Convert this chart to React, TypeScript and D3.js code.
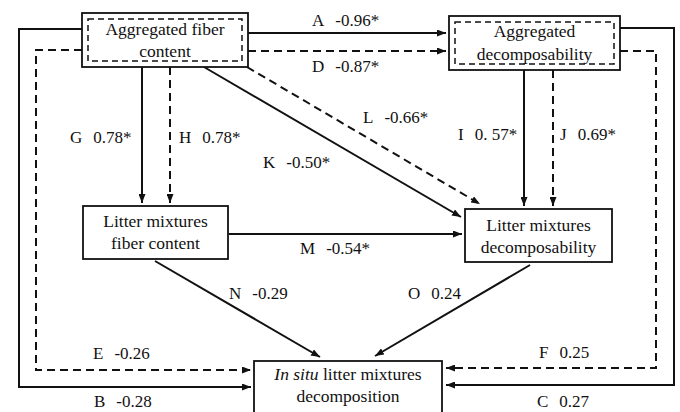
import * as d3 from "d3";

// path coefficients (letter, value)
const pathLetters = ["A", "B", "C", "D", "E", "F", "G", "H", "I", "J", "K", "L", "M", "N", "O"];
const pathValues = ["-0.96*", "-0.28", "0.27", "-0.87*", "-0.26", "0.25", "0.78*", "0.78*", "0. 57*", "0.69*", "-0.50*", "-0.66*", "-0.54*", "-0.29", "0.24"];
const pathDashed = [false, false, false, true, true, true, false, true, false, true, false, true, false, false, false];

// node labels
const nodeIds = ["aggFiber", "aggDecomp", "mixFiber", "mixDecomp", "insitu"];
const nodeLines = [
  ["Aggregated fiber", "content"],
  ["Aggregated", "decomposability"],
  ["Litter mixtures", "fiber content"],
  ["Litter mixtures", "decomposability"],
  ["|In situ| litter mixtures", "decomposition"],
];

// layout (positions only)
const boxLayout: Record<string, { x0: number; x1: number; y0: number; y1: number; base: number[]; double?: boolean }> = {
  aggFiber: { x0: 82, x1: 248, y0: 13, y1: 67, base: [35, 57], double: true },
  aggDecomp: { x0: 449, x1: 620, y0: 16, y1: 70, base: [37, 60], double: true },
  mixFiber: { x0: 83, x1: 228, y0: 206, y1: 259, base: [227, 249] },
  mixDecomp: { x0: 465, x1: 612, y0: 209, y1: 262, base: [231, 253] },
  insitu: { x0: 254, x1: 442, y0: 361, y1: 420, base: [380, 402] },
};

const routeLayout: Record<string, [number, number][]> = {
  A: [[248, 33], [446, 33]],
  D: [[248, 51], [446, 51]],
  B: [[82, 29], [19, 29], [19, 387], [251, 387]],
  E: [[82, 50], [36, 50], [36, 370], [251, 370]],
  C: [[620, 28], [674, 28], [674, 385], [446, 385]],
  F: [[620, 51], [656, 51], [656, 368], [446, 368]],
  G: [[142, 67], [142, 203]],
  H: [[170, 67], [170, 203]],
  K: [[204, 67], [461, 217]],
  L: [[247, 67], [480, 204]],
  I: [[524, 70], [524, 206]],
  J: [[553, 70], [553, 206]],
  M: [[229, 234], [462, 234]],
  N: [[155, 261], [320, 357]],
  O: [[530, 265], [375, 356]],
};

const labelLayout: Record<string, [number, number]> = {
  A: [312, 26], D: [312, 72], B: [94, 407], E: [93, 359], C: [537, 407], F: [539, 358],
  G: [70, 143], H: [179, 143], K: [263, 168], L: [363, 123], I: [458, 140], J: [560, 140],
  M: [300, 254], N: [229, 299], O: [408, 299],
};

const W = 680;
const H = 412;
const font = "'Liberation Serif', 'Times New Roman', serif";
const ink = "#111";

const line = d3.line<[number, number]>().x((d) => d[0]).y((d) => d[1]);

function renderLine(text: string, key: number, x: number, y: number) {
  const parts = text.split("|").filter((p) => p.length > 0);
  const italicFirst = text.startsWith("|");
  return (
    <text key={key} x={x} y={y} textAnchor="middle" fontFamily={font} fontSize={17.5} fill={ink}>
      {parts.map((p, i) => (
        <tspan key={i} fontStyle={italicFirst && i === 0 ? "italic" : "normal"}>{p}</tspan>
      ))}
    </text>
  );
}

export default function App() {
  return (
    <svg width={W} height={H} style={{ position: "absolute", left: 0, top: 0, background: "#fff" }}>
      <defs>
        <marker id="arr" viewBox="0 0 9 7" refX={9} refY={3.5} markerWidth={9} markerHeight={7} markerUnits="userSpaceOnUse" orient="auto">
          <path d="M0,0 L9,3.5 L0,7 z" fill={ink} />
        </marker>
      </defs>
      {pathLetters.map((k, i) => (
        <path
          key={k}
          d={line(routeLayout[k]) ?? ""}
          fill="none"
          stroke={ink}
          strokeWidth={2}
          strokeDasharray={pathDashed[i] ? "8,5" : undefined}
          markerEnd="url(#arr)"
        />
      ))}
      {nodeIds.map((id, i) => {
        const b = boxLayout[id];
        const cx = (b.x0 + b.x1) / 2;
        return (
          <g key={id}>
            <rect x={b.x0} y={b.y0} width={b.x1 - b.x0} height={b.y1 - b.y0} fill="#fff" stroke={ink} strokeWidth={1.8} />
            {b.double && (
              <rect x={b.x0 + 6} y={b.y0 + 6} width={b.x1 - b.x0 - 12} height={b.y1 - b.y0 - 12} fill="none" stroke={ink} strokeWidth={1.5} strokeDasharray="6,4" />
            )}
            {nodeLines[i].map((t, j) => renderLine(t, j, cx, b.base[j]))}
          </g>
        );
      })}
      {pathLetters.map((k, i) => (
        <text key={"l" + k} x={labelLayout[k][0]} y={labelLayout[k][1]} fontFamily={font} fontSize={17} fill={ink}>
          <tspan>{k}</tspan>
          <tspan dx={11}>{pathValues[i]}</tspan>
        </text>
      ))}
    </svg>
  );
}
